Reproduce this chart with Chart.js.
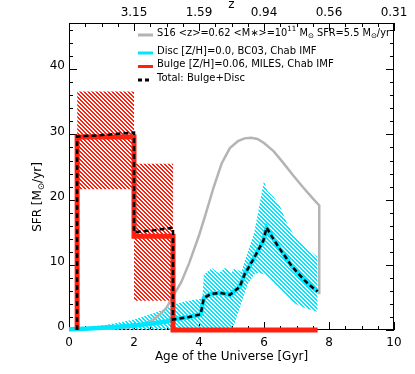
<!DOCTYPE html>
<html>
<head>
<meta charset="utf-8">
<script src="https://cdn.jsdelivr.net/npm/chart.js@4.4.1/dist/chart.umd.min.js"></script>
<style>
  html, body { margin: 0; padding: 0; background: #fff; }
  canvas { display: block; }
</style>
</head>
<body>
<canvas id="sfrChart" width="415" height="374"></canvas>
<script>
// ---------- data ----------
const xTicks = [0, 2, 4, 6, 8, 10];
const yTicks = [0, 10, 20, 30, 40];
const zTickAges = [2, 4, 6, 8, 10];
const zLabels = ["3.15", "1.59", "0.94", "0.56", "0.31"];

// S16 reference history (grey)
const s16Age = [0, 0.5, 1.0, 1.5, 2.0, 2.3, 2.6, 2.8, 3.0, 3.2, 3.45, 3.7, 4.0, 4.2, 4.45, 4.7, 4.95, 5.2, 5.4, 5.6, 5.8, 6.0, 6.3, 6.6, 6.9, 7.2, 7.5, 7.7, 7.7];
const s16Sfr = [0, 0.02, 0.1, 0.25, 0.5, 0.9, 1.6, 2.4, 3.4, 5.2, 7.3, 10.3, 14.5, 17.7, 21.9, 25.6, 27.9, 29.0, 29.4, 29.5, 29.3, 28.7, 27.4, 25.6, 23.7, 21.9, 20.2, 19.1, 5.5];

// disc (cyan line + hatched range)
const discAge = [0, 0.5, 1.0, 1.5, 2.0, 2.5, 3.0, 3.2, 3.7, 4.05, 4.15, 4.35, 4.65, 4.95, 5.25, 5.4, 5.55, 5.7, 5.85, 5.98, 6.08, 6.25, 6.45, 6.65, 6.85, 7.05, 7.25, 7.45, 7.65];
const discSfr = [0.1, 0.2, 0.35, 0.5, 0.7, 0.95, 1.3, 1.6, 2.0, 2.4, 4.9, 5.5, 5.7, 5.4, 6.6, 8.5, 9.8, 11.1, 12.5, 13.7, 15.7, 14.3, 12.7, 11.3, 9.8, 8.7, 7.6, 6.7, 5.9];
const bandAge  = [0, 0.5, 1.0, 1.5, 2.0, 2.5, 3.0, 3.2, 3.5, 3.8, 4.1, 4.15, 4.4, 4.6, 4.8, 5.0, 5.1, 5.3, 5.5, 5.7, 5.85, 6.0, 6.1, 6.3, 6.5, 6.7, 6.9, 7.1, 7.3, 7.5, 7.65];
const bandHigh = [0.2, 0.4, 0.7, 1.1, 1.6, 2.4, 3.3, 3.9, 4.3, 4.6, 4.8, 8.5, 9.5, 8.7, 9.5, 8.8, 9.5, 8.9, 12.0, 15.0, 18.9, 22.9, 21.4, 20.4, 18.9, 16.5, 14.7, 13.5, 12.5, 11.8, 11.2];
const bandLow  = [0, 0, 0, 0, 0, 0, 0, 0, 0, 0, 0, 0, 0, 0, 0, 0, 1.1, 4.1, 7.0, 8.5, 8.8, 8.5, 8.1, 7.1, 6.2, 5.1, 4.2, 3.7, 3.3, 3.0, 2.8];

// bulge (red step + hatched boxes)
const bulgeAge = [0.25, 0.25, 2.0, 3.2, 7.65];
const bulgeSfr = [0, 29.6, 14.4, 0, 0];
const boxAge  = [0.25, 2.0, 3.2];
const boxHigh = [36.6, 25.5, 25.5];
const boxLow  = [21.6, 4.5, 4.5];

// total bulge + disc (dashed)
const totalAge = [0.25, 0.25, 1.0, 2.0, 2.0, 2.6, 3.2, 3.2, 3.7, 4.05, 4.15, 4.35, 4.65, 4.95, 5.25, 5.4, 5.55, 5.7, 5.85, 5.98, 6.08, 6.25, 6.45, 6.65, 6.85, 7.05, 7.25, 7.45, 7.65];
const totalSfr = [0, 29.7, 29.9, 30.3, 15.0, 15.3, 15.7, 1.6, 2.0, 2.4, 4.9, 5.5, 5.7, 5.4, 6.6, 8.5, 9.8, 11.1, 12.5, 13.7, 15.7, 14.3, 12.7, 11.3, 9.8, 8.7, 7.6, 6.7, 5.9];

const legendLabels = [
  "S16 <z>=0.62 <M∗>=10^{11} M_{⊙} SFR=5.5 M_{⊙}/yr",
  "Disc [Z/H]=0.0, BC03, Chab IMF",
  "Bulge [Z/H]=0.06, MILES, Chab IMF",
  "Total: Bulge+Disc"
];
const yTitle = "SFR [M_{⊙}/yr]";

// ---------- helpers ----------
const FONT = "'DejaVu Sans', sans-serif";
const RED = "#ff2010";
const CYAN = "#00e6ff";
const GREY = "#b4b4b4";

const pts = (xs, ys) => xs.map((x, i) => ({ x, y: ys[i] }));

const hatch = (color) => {
  const c = document.createElement("canvas");
  c.width = c.height = 4;
  const g = c.getContext("2d");
  g.fillStyle = color;
  for (let i = 0; i < 4; i++) {
    g.fillRect(i, i, 1, 1);
    g.fillRect((i + 1) % 4, i, 1, 1);
  }
  return g.createPattern(c, "repeat");
};

// "_{..}" = subscript, "^{..}" = superscript
const parseRich = (s) => {
  const parts = [];
  const re = /([_^])\{([^}]*)\}/g;
  let last = 0, m;
  while ((m = re.exec(s))) {
    if (m.index > last) parts.push({ t: s.slice(last, m.index) });
    parts.push({ t: m[2], sub: m[1] === "_", sup: m[1] === "^" });
    last = re.lastIndex;
  }
  if (last < s.length) parts.push({ t: s.slice(last) });
  return parts;
};

const drawRich = (ctx, s, x, y, size, measureOnly) => {
  let cx = x;
  parseRich(s).forEach(p => {
    const fs = p.sub || p.sup ? size * 0.72 : size;
    ctx.font = `${fs}px ${FONT}`;
    const dy = p.sub ? size * 0.3 : p.sup ? -size * 0.38 : 0;
    if (!measureOnly) ctx.fillText(p.t, cx, y + dy);
    cx += ctx.measureText(p.t).width;
  });
  return cx - x;
};

// ---------- plugins ----------
const frameTicks = {
  id: "frameTicks",
  beforeDatasetsDraw(chart) {
    const { ctx, chartArea: a, scales: { x, y } } = chart;
    ctx.save();
    ctx.strokeStyle = "#000";
    ctx.lineWidth = 1;
    ctx.strokeRect(a.left + 0.5, a.top + 0.5, a.right - a.left - 1, a.bottom - a.top - 1);
    ctx.beginPath();
    for (let v = 0; v <= 10; v += 0.5) {
      const px = Math.round(x.getPixelForValue(v)) + 0.5;
      const len = v % 2 === 0 ? 8 : 4;
      ctx.moveTo(px, a.bottom); ctx.lineTo(px, a.bottom - len);
      ctx.moveTo(px, a.top); ctx.lineTo(px, a.top + len);
    }
    for (let v = 0; v <= 46; v += 2) {
      const py = Math.round(y.getPixelForValue(v)) + 0.5;
      const len = v % 10 === 0 ? 8 : 4;
      ctx.moveTo(a.left, py); ctx.lineTo(a.left + len, py);
      ctx.moveTo(a.right, py); ctx.lineTo(a.right - len, py);
    }
    ctx.stroke();
    ctx.restore();
  },
  afterDraw(chart) {
    const { ctx } = chart;
    ctx.save();
    ctx.fillStyle = "#000";
    ctx.textBaseline = "middle";
    // y title, rotated
    const w = drawRich(ctx, yTitle, 0, 0, 12, true);
    ctx.translate(38, 197);
    ctx.rotate(-Math.PI / 2);
    drawRich(ctx, yTitle, -w / 2, 0, 12);
    ctx.restore();

    // legend, inside the plot at top right
    const rows = [35, 53, 66.5, 80];
    const maxW = 233;
    const ds = chart.data.datasets.filter(d => d.legendIndex !== undefined);
    ds.sort((a, b) => a.legendIndex - b.legendIndex);
    ds.forEach((d, i) => {
      const yy = rows[i];
      ctx.save();
      ctx.beginPath();
      ctx.strokeStyle = d.borderColor;
      ctx.lineWidth = 3;
      ctx.setLineDash(d.borderDash ? [4, 3] : []);
      ctx.moveTo(138, yy);
      ctx.lineTo(d.borderDash ? 149 : 153, yy);
      ctx.stroke();
      ctx.setLineDash([]);
      ctx.fillStyle = "#000";
      ctx.textBaseline = "middle";
      const tw = drawRich(ctx, legendLabels[i], 0, 0, 10, true);
      ctx.translate(157, yy - 2);
      if (tw > maxW) ctx.scale(maxW / tw, 1);
      drawRich(ctx, legendLabels[i], 0, 0, 10);
      ctx.restore();
    });
  }
};

// ---------- chart ----------
const redHatch = hatch(RED);
const cyanHatch = hatch(CYAN);

const line = (extra) => Object.assign({
  pointRadius: 0, tension: 0, fill: false, borderJoinStyle: "miter", borderCapStyle: "butt"
}, extra);

new Chart(document.getElementById("sfrChart").getContext("2d"), {
  type: "line",
  data: {
    datasets: [
      line({ data: pts(totalAge, totalSfr), borderColor: "#000", borderWidth: 2.5, borderDash: [5, 3], order: 1, clip: false, legendIndex: 3 }),
      line({ data: pts(bulgeAge, bulgeSfr), borderColor: RED, borderWidth: 5, stepped: "before", order: 2, clip: false, legendIndex: 2 }),
      line({ data: pts(discAge, discSfr), borderColor: CYAN, borderWidth: 4.5, order: 3, clip: false, legendIndex: 1 }),
      line({ data: pts(s16Age, s16Sfr), borderColor: GREY, borderWidth: 2.5, order: 4, legendIndex: 0 }),
      line({ data: pts(bandAge, bandHigh), borderWidth: 0, backgroundColor: cyanHatch, fill: "+1", order: 5 }),
      line({ data: pts(bandAge, bandLow), borderWidth: 0, order: 5 }),
      line({ data: pts(boxAge, boxHigh), borderWidth: 0, backgroundColor: redHatch, fill: "+1", stepped: "before", order: 6 }),
      line({ data: pts(boxAge, boxLow), borderWidth: 0, stepped: "before", order: 6 })
    ]
  },
  options: {
    responsive: false,
    animation: false,
    devicePixelRatio: 1,
    layout: { padding: { left: 0, right: 21, top: 0, bottom: 0 } },
    plugins: { legend: { display: false }, tooltip: { enabled: false } },
    scales: {
      x: {
        type: "linear", position: "bottom", min: 0, max: 10,
        afterBuildTicks: s => { s.ticks = xTicks.map(v => ({ value: v })); },
        afterFit: s => { s.height = 44; },
        grid: { display: false, drawTicks: false },
        border: { display: false },
        ticks: { padding: 6, color: "#000", font: { family: FONT, size: 12 }, maxRotation: 0, autoSkip: false },
        title: { display: true, text: "Age of the Universe [Gyr]", color: "#000", font: { family: FONT, size: 12 }, padding: { top: 0, bottom: 10 } }
      },
      x2: {
        type: "linear", position: "top", min: 0, max: 10,
        afterBuildTicks: s => { s.ticks = zTickAges.map(v => ({ value: v })); },
        afterFit: s => { s.height = 23; },
        grid: { display: false, drawTicks: false },
        border: { display: false },
        ticks: { padding: 3, color: "#000", font: { family: FONT, size: 12 }, maxRotation: 0, autoSkip: false,
                 callback: v => zLabels[zTickAges.indexOf(v)] },
        title: { display: true, text: "z", color: "#000", font: { family: FONT, size: 12 }, padding: { top: -2, bottom: 0 } }
      },
      y: {
        type: "linear", position: "left", min: 0, max: 47.1,
        afterBuildTicks: s => { s.ticks = yTicks.map(v => ({ value: v })); },
        afterFit: s => { s.width = 69; },
        grid: { display: false, drawTicks: false },
        border: { display: false },
        ticks: { padding: 4, labelOffset: -3, color: "#000", font: { family: FONT, size: 12 } }
      }
    }
  },
  plugins: [frameTicks]
});
</script>
</body>
</html>
